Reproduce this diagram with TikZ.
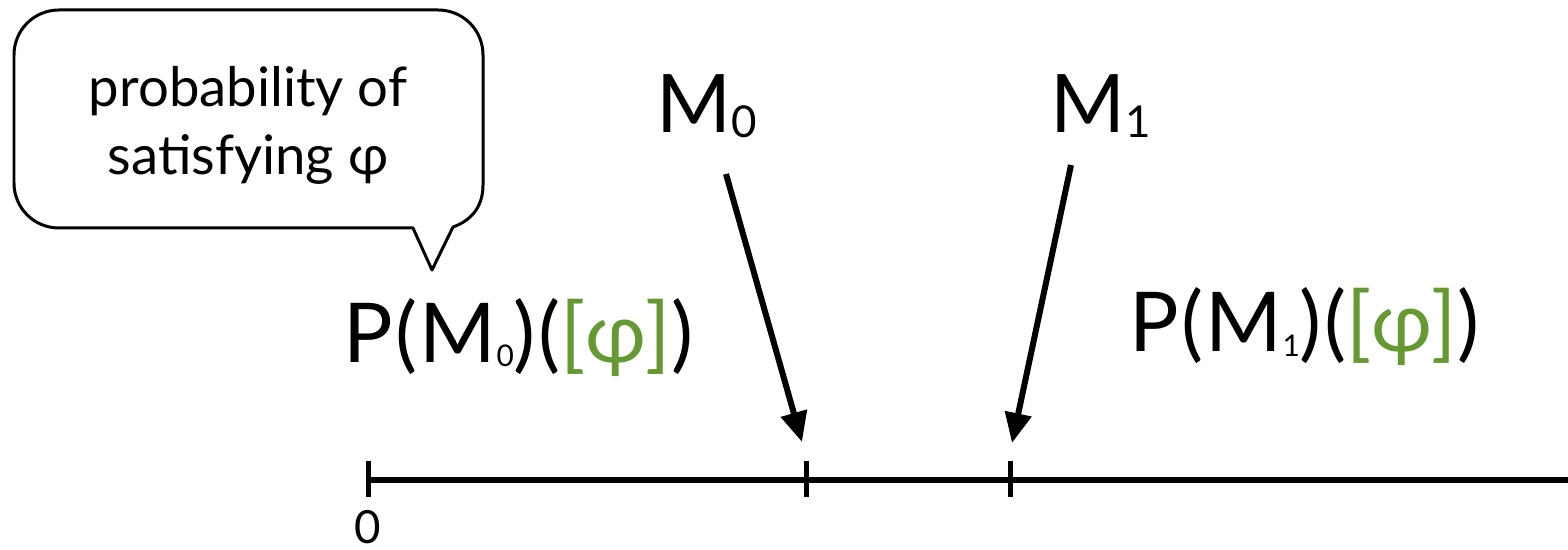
\documentclass[tikz,border=0pt]{standalone}
\usepackage{fontspec}
\setmainfont{Lato}
\usetikzlibrary{arrows.meta}

\definecolor{phigreen}{RGB}{102,153,51}
% small index, set a little below the baseline
\newcommand{\lowidx}[2]{\raisebox{-2.5pt}{\fontsize{#1}{#1}\selectfont #2}}

\begin{document}
\begin{tikzpicture}[x=0.02cm,y=-0.02cm,
  bigtext/.style={inner sep=0pt,font=\fontsize{46}{50}\selectfont},
  probtext/.style={inner sep=0pt,font=\fontsize{47}{50}\selectfont\addfontfeature{LetterSpace=3}},
  notetext/.style={inner sep=0pt,font=\fontsize{31}{34}\selectfont},
  bubble/.style={line width=0.06cm,line join=round},
  pointer/.style={line width=0.12cm,-{Triangle[length=0.6cm,width=0.52cm]}},
  axisline/.style={line width=0.12cm},
  tickline/.style={line width=0.1cm}]

\useasboundingbox (0,0) rectangle (1568,550);

% speech bubble
\draw[bubble] (413,228) -- (59,228) .. controls (34,228) and (14,208) .. (14,183)
      -- (14,55) .. controls (14,30) and (34,10) .. (59,10)
      -- (438,10) .. controls (463,10) and (483,30) .. (483,55)
      -- (483,185) .. controls (483,208) and (470,221) .. (453,227)
      -- (432,270) -- cycle;
\node[notetext,anchor=base] (noteA) at (248,107) {probability of};
\node[notetext,anchor=base] (noteB) at (248,175) {satisfying φ};

% model labels
\node[bigtext,anchor=base west] (lblMzero) at (656,133) {M\lowidx{25}{0}};
\node[bigtext,anchor=base west] (lblMone) at (1050,133) {M\lowidx{25}{1}};

% probabilities
\node[probtext,anchor=base west] (probMzero) at (343,362) {P(M\lowidx{17}{0})(\textcolor{phigreen}{[φ]})};
\node[probtext,anchor=base west] (probMone) at (1129,352) {P(M\lowidx{17}{1})(\textcolor{phigreen}{[φ]})};

% horizontal axis
\coordinate (origin) at (368,480);
\coordinate (axisend) at (1568,480);
\draw[axisline] (origin) -- (axisend);
\foreach \t in {368,806,1010}
  \draw[tickline] (\t,461) -- (\t,497);
\node[font=\fontsize{26}{28}\selectfont,anchor=base] (zero) at (368,543) {0};

% arrows
\coordinate (tailA) at (726,174);
\coordinate (headA) at (802,442);
\coordinate (tailB) at (1071,165);
\coordinate (headB) at (1012,443);
\draw[pointer] (tailA) -- (headA);
\draw[pointer] (tailB) -- (headB);

\end{tikzpicture}
\end{document}
